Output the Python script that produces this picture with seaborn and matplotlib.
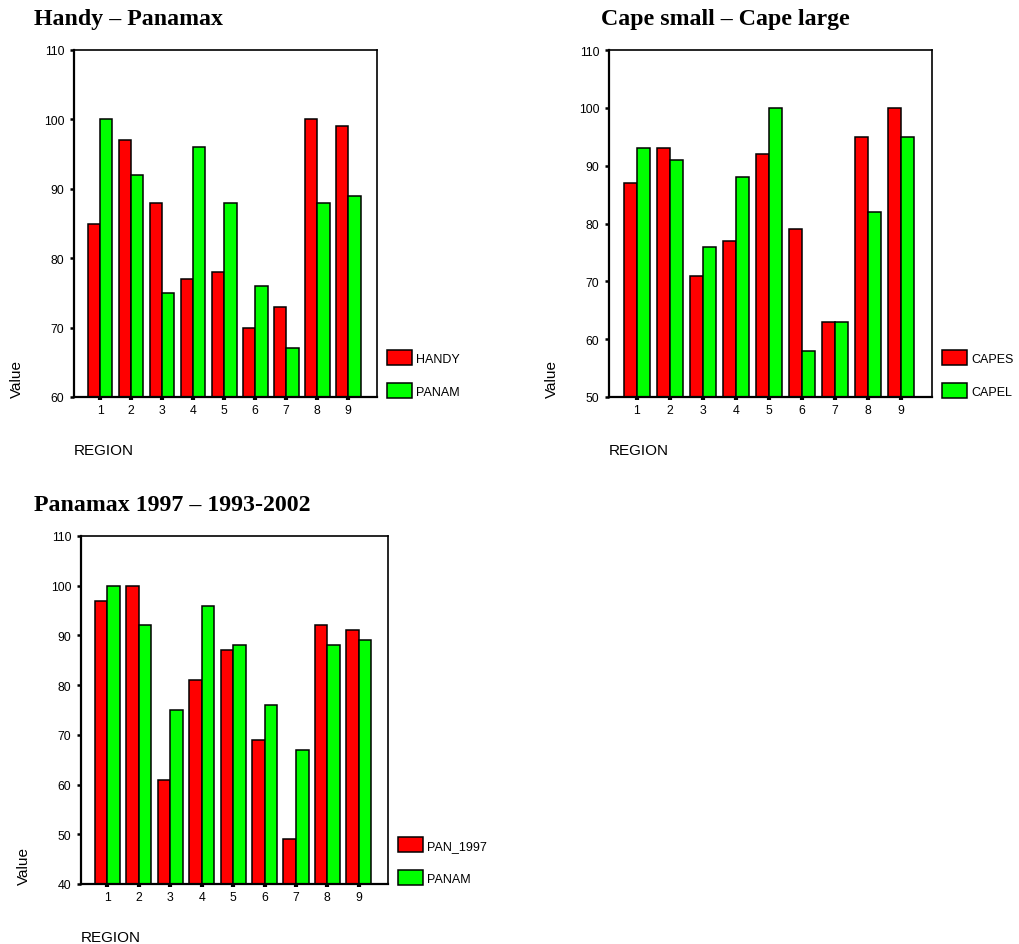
import matplotlib
matplotlib.use("Agg")
import matplotlib.pyplot as plt
import seaborn as sns
import pandas as pd

# Region index shared by all three panels
regions = [1, 2, 3, 4, 5, 6, 7, 8, 9]

# Handy vs Panamax
handy = [85, 97, 88, 77, 78, 70, 73, 100, 99]
panam = [100, 92, 75, 96, 88, 76, 67, 88, 89]

# Cape small vs Cape large
capes = [87, 93, 71, 77, 92, 79, 63, 95, 100]
capel = [93, 91, 76, 88, 100, 58, 63, 82, 95]

# Panamax 1997 vs 1993-2002 average
pan_1997 = [97, 100, 61, 81, 87, 69, 49, 92, 91]

sns.set_theme(style="ticks")
plt.rcParams["font.family"] = ["Liberation Sans", "DejaVu Sans"]
plt.rcParams.update({
    "text.color": "black",
    "axes.labelcolor": "black",
    "xtick.color": "black",
    "ytick.color": "black",
})

RED = "#ff0000"
GREEN = "#00ff00"

fig = plt.figure(figsize=(10.19, 9.45), dpi=100)
W, H = 1019, 945


def add_axes_px(left, top, right, bottom):
    return fig.add_axes([left / W, 1 - bottom / H, (right - left) / W, (bottom - top) / H])


def long_frame(name_a, vals_a, name_b, vals_b):
    return pd.DataFrame({
        "REGION": regions * 2,
        "series": [name_a] * len(regions) + [name_b] * len(regions),
        "Value": list(vals_a) + list(vals_b),
    })


def panel(ax, df, title, ymin, box, title_left):
    left, top, right, bottom = box
    ax_w_px = right - left
    ax_h_px = bottom - top
    sns.barplot(data=df, x="REGION", y="Value", hue="series",
                palette=[RED, GREEN], saturation=1, width=0.8,
                edgecolor="black", linewidth=1.1, errorbar=None, ax=ax)
    ax.set_xlim(-0.84, 8.93)
    ax.set_ylim(ymin, 110)
    ax.set_yticks(range(ymin, 111, 10))
    for side in ["top", "right"]:
        ax.spines[side].set_linewidth(1.2)
        ax.spines[side].set_color("black")
    for side in ["left", "bottom"]:
        ax.spines[side].set_linewidth(1.6)
        ax.spines[side].set_color("black")
    ax.tick_params(axis="y", direction="out", length=3, width=1.8,
                   labelsize=8.8, pad=4, colors="black")
    ax.tick_params(axis="x", direction="inout", length=4, width=3,
                   labelsize=8.8, pad=3, colors="black")

    ax.set_ylabel("Value", loc="bottom", fontsize=11)
    ax.yaxis.set_label_coords(-50 / ax_w_px, 0)
    ax.set_xlabel("REGION", loc="left", fontsize=11)
    ax.xaxis.set_label_coords(0, -46 / ax_h_px)

    ax.set_title(title, loc="left", fontsize=17.2, fontweight="bold",
                 family="Liberation Serif", color="black",
                 x=(title_left - left) / ax_w_px, y=1 + 26 / ax_h_px, pad=0)

    handles, labels = ax.get_legend_handles_labels()
    ax.legend(handles, labels, loc="lower left",
              bbox_to_anchor=(1 + 10 / ax_w_px, -0.003), frameon=False,
              fontsize=9, handlelength=2.0, handleheight=1.45,
              handletextpad=0.35, labelspacing=1.45, borderpad=0,
              borderaxespad=0)


box1 = (74, 51, 377, 398)
ax1 = add_axes_px(*box1)
panel(ax1, long_frame("HANDY", handy, "PANAM", panam),
      "Handy \u2013 Panamax", 60, box1, 34)

box2 = (609, 51, 932, 398)
ax2 = add_axes_px(*box2)
panel(ax2, long_frame("CAPES", capes, "CAPEL", capel),
      "Cape small \u2013 Cape large", 50, box2, 601)

box3 = (81, 537, 388, 885)
ax3 = add_axes_px(*box3)
panel(ax3, long_frame("PAN_1997", pan_1997, "PANAM", panam),
      "Panamax 1997 \u2013 1993-2002", 40, box3, 34)

fig.savefig("out.png", dpi=100, facecolor="white")
